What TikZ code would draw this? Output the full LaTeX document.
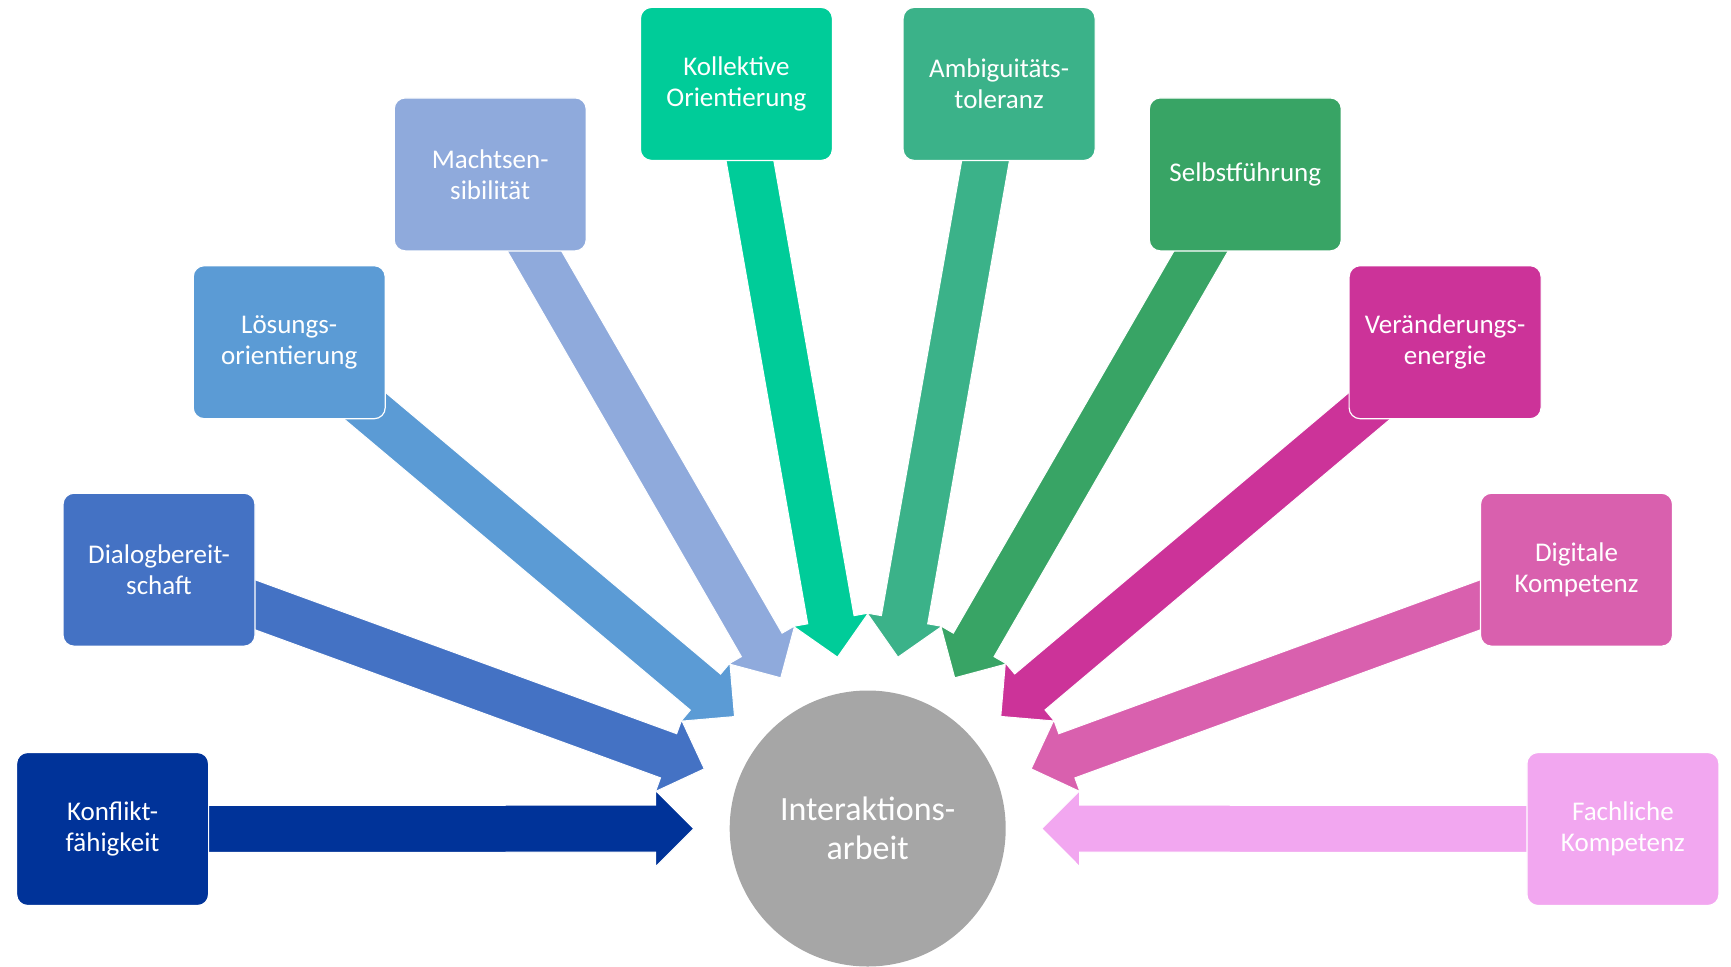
\documentclass[tikz,border=0pt]{standalone}
\usepackage{fontspec}
\setmainfont{Carlito}
\usetikzlibrary{calc,backgrounds}
\definecolor{cA}{HTML}{003399}
\definecolor{cB}{HTML}{4472C4}
\definecolor{cC}{HTML}{5B9BD5}
\definecolor{cD}{HTML}{8FAADC}
\definecolor{cE}{HTML}{00CC99}
\definecolor{cF}{HTML}{3BB289}
\definecolor{cG}{HTML}{38A465}
\definecolor{cH}{HTML}{CC3399}
\definecolor{cI}{HTML}{D960AE}
\definecolor{cJ}{HTML}{F2A7F0}
\definecolor{hubgray}{HTML}{A6A6A6}
\tikzset{
  box/.style={rounded corners=11pt, minimum width=192pt, minimum height=153pt,
    draw=white, line width=1.2pt, text=white, align=center, inner sep=0pt,
    font=\fontsize{27}{31}\selectfont},
  hub/.style={circle, fill=hubgray, minimum size=276pt, text=white, align=center,
    inner sep=0pt, font=\fontsize{34}{39}\selectfont},
  blk/.style={draw=white, line width=1pt, line join=miter},
}
\newcommand\blkarrow[2]{%
  \coordinate (T-#1) at ($(hub.center)!174pt!(#1.center)$);
  \coordinate (H-#1) at ($(T-#1)!38pt!(#1.center)$);
  \fill[blk, fill=#2]
    ($(#1.center)!23.5pt!-90:(T-#1)$) -- ($(H-#1)!23.5pt!90:(#1.center)$)
    -- ($(H-#1)!38pt!90:(#1.center)$) -- (T-#1)
    -- ($(H-#1)!38pt!-90:(#1.center)$) -- ($(H-#1)!23.5pt!-90:(#1.center)$)
    -- ($(#1.center)!23.5pt!90:(T-#1)$) -- cycle;
}
\begin{document}
\begin{tikzpicture}[x=1pt,y=-1pt]
\useasboundingbox (0,0) rectangle (1731,966);
\node[hub] (hub) at (867.7,828.5) {Interaktions-\\arbeit};
\node[box, fill=cA] (k1) at (112.6,829) {Konflikt-\\fähigkeit};
\node[box, fill=cB] (k2) at (159,569.7) {Dialogbereit-\\schaft};
\node[box, fill=cC] (k3) at (289.2,342.2) {Lösungs-\\orientierung};
\node[box, fill=cD] (k4) at (490.2,174.4) {Machtsen-\\sibilität};
\node[box, fill=cE] (k5) at (736.4,83.9) {Kollektive\\Orientierung};
\node[box, fill=cF] (k6) at (999.1,83.9) {Ambiguitäts-\\toleranz};
\node[box, fill=cG] (k7) at (1245.3,174.4) {Selbstführung};
\node[box, fill=cH] (k8) at (1445.1,342.2) {Veränderungs-\\energie};
\node[box, fill=cI] (k9) at (1576.5,569.7) {Digitale\\Kompetenz};
\node[box, fill=cJ] (k10) at (1622.9,829) {Fachliche\\Kompetenz};
\begin{pgfonlayer}{background}
\blkarrow{k1}{cA}
\blkarrow{k2}{cB}
\blkarrow{k3}{cC}
\blkarrow{k4}{cD}
\blkarrow{k5}{cE}
\blkarrow{k6}{cF}
\blkarrow{k7}{cG}
\blkarrow{k8}{cH}
\blkarrow{k9}{cI}
\blkarrow{k10}{cJ}
\end{pgfonlayer}
\end{tikzpicture}
\end{document}
